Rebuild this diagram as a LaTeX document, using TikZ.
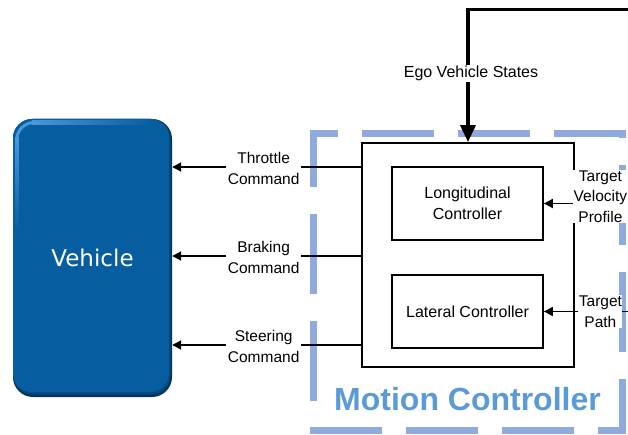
\documentclass[tikz,border=0pt]{standalone}
\usepackage{fontspec}
\setmainfont{Liberation Sans}
\newfontfamily\vehfont{DejaVu Sans}
\usetikzlibrary{arrows.meta}

\definecolor{vehmain}{RGB}{6,94,160}
\definecolor{vehdark}{RGB}{3,52,92}
\definecolor{vehlight}{RGB}{72,152,216}
\definecolor{framec}{RGB}{143,170,220}
\definecolor{titlec}{RGB}{91,155,213}

\begin{document}
\begin{tikzpicture}[x=1pt,y=-1pt,
  blk/.style={draw=black, line width=1.8pt, inner sep=0pt, align=center,
              font=\fontsize{16}{20.5}\selectfont},
  lbl/.style={fill=white, inner sep=1.5pt, align=center,
              font=\fontsize{15.5}{20.5}\selectfont},
  conn/.style={line width=1.8pt, -{Triangle[length=9pt,width=9pt]}},
  feed/.style={line width=3.5pt, -{Triangle[length=17pt,width=15pt]}},
  frameline/.style={draw=framec, line width=7pt}]

\useasboundingbox (0,0) rectangle (628,435);
\clip (0,0) rectangle (628,435);

% ---- vehicle block: rounded body with a soft bevel ----
\fill[vehdark, rounded corners=20] (13,119) rectangle (172,397);
\fill[vehdark!50!vehmain, rounded corners=19.5] (13,119) rectangle (170.5,394.5);
\fill[vehmain, rounded corners=19] (13,119) rectangle (169,392);
\shade[left color=vehlight, right color=vehmain] (32,121) rectangle (152,124.5);
\shade[top color=vehlight, bottom color=vehmain] (15,138) rectangle (18.5,230);
\draw[vehlight, line width=3pt] (16.75,140) arc[start angle=180, end angle=270, radius=17.5];
\node[minimum width=159pt, minimum height=278pt, inner sep=0pt, text=white,
      font=\vehfont\fontsize{23}{28}\selectfont] (veh) at (92.5,258)
      {\raisebox{-2pt}{Vehicle}};

% ---- dashed frame of the motion controller ----
\draw[frameline, dash pattern=on 72pt off 24pt, dash phase=44pt] (309.5,134) -- (625.5,134);
\draw[frameline, dash pattern=on 80pt off 27pt, dash phase=72.5pt] (622,130.5) -- (622,433.5);
\draw[frameline, dash pattern=on 80pt off 27pt, dash phase=23.5pt] (313,130.5) -- (313,433.5);
\draw[frameline, dash pattern=on 72pt off 24pt] (309.5,430) -- (625.5,430);

\node[text=titlec, anchor=base, inner sep=0pt,
      font=\fontsize{32}{38}\selectfont\bfseries] (mctitle) at (467.5,410) {Motion Controller};

% ---- controller blocks ----
\node[blk, minimum width=212pt, minimum height=224pt] (mc) at (468,255) {};
\node[blk, minimum width=151pt, minimum height=73pt] (lon) at (467.5,203.5) {Longitudinal\\Controller};
\node[blk, minimum width=151pt, minimum height=73pt] (lat) at (467.5,311.5) {Lateral Controller};

% ---- feedback of the ego vehicle states ----
\coordinate (fbin) at (640,9.5);
\coordinate (fbtop) at (468,9.5);
\draw[feed] (fbin) -- (fbtop) -- node[fill=white, inner sep=1.5pt, pos=0.483, xshift=3pt,
      font=\fontsize{16}{20}\selectfont] (ego) {Ego Vehicle States} (mc.north);

% ---- commands to the vehicle ----
\coordinate (yT) at (0,167);
\coordinate (yB) at (0,256);
\coordinate (yS) at (0,345);
\draw[conn] (mc.west |- yT) -- node[lbl, pos=0.516, yshift=-1.5pt] (thr) {Throttle\\Command} (veh.east |- yT);
\draw[conn] (mc.west |- yB) -- node[lbl, pos=0.516, yshift=-1.5pt] (brk) {Braking\\Command} (veh.east |- yB);
\draw[conn] (mc.west |- yS) -- node[lbl, pos=0.516, yshift=-1.5pt] (str) {Steering\\Command} (veh.east |- yS);

% ---- references into the controllers ----
\coordinate (tvin) at (640,203.5);
\coordinate (tpin) at (640,311.5);
\draw[conn] (tvin) -- node[lbl, pos=0.412, yshift=7pt, inner sep=0.5pt] (tv) {Target\\Velocity\\Profile} (lon.east);
\draw[conn] (tpin) -- node[lbl, pos=0.412, inner sep=0.5pt] (tp) {Target\\Path} (lat.east);

\end{tikzpicture}
\end{document}
